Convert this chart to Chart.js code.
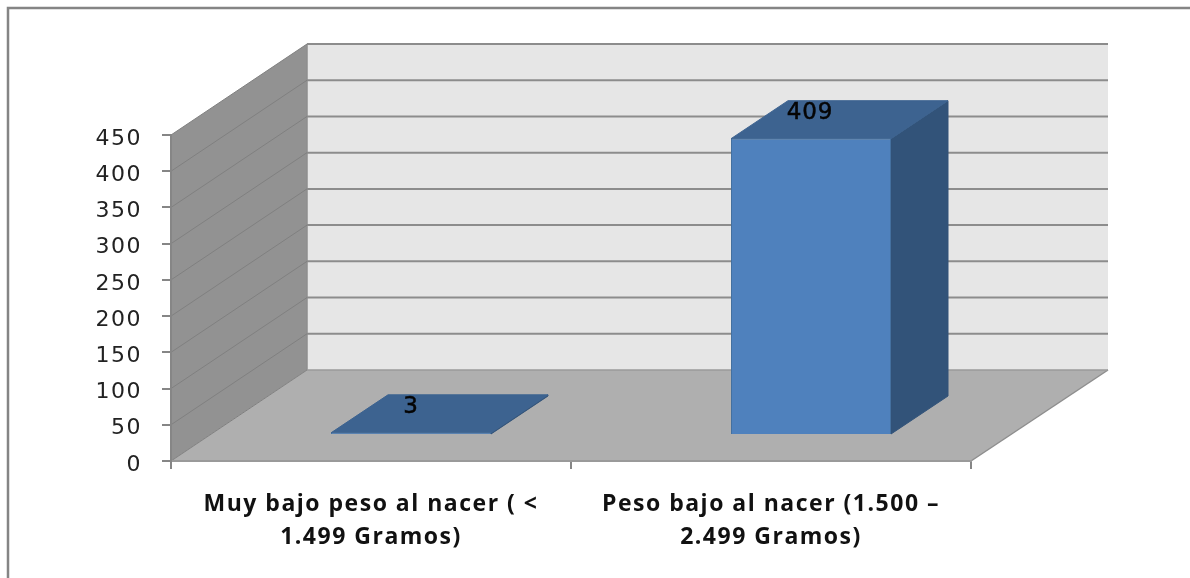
<!DOCTYPE html>
<html><head><meta charset="utf-8">
<style>html,body{margin:0;padding:0;background:#fff;overflow:hidden}canvas{display:block;filter:blur(0.5px)}</style>
<script src="https://cdn.jsdelivr.net/npm/chart.js@4"></script>
</head><body>
<canvas id="c" width="1190" height="578"></canvas>
<script>
const categories = [["Muy bajo peso al nacer ( <","1.499 Gramos)"],["Peso bajo al nacer (1.500 –","2.499 Gramos)"]];
const values = [3, 409];
const tickValues = [0,50,100,150,200,250,300,350,400,450];

const WALL = {dx:136, dxr:137, dy:91};
const BAROFF = {dx:40, dy:26};
const BARDEPTH = {dx:57, dy:38};

const box3d = {
  id:'box3d',
  beforeDraw(chart){
    const c=chart.ctx, a=chart.chartArea, y=chart.scales.y;
    c.letterSpacing='1.5px';
    c.save();
    c.fillStyle='#fff'; c.fillRect(0,0,chart.width,chart.height);
    c.strokeStyle='#858585'; c.lineWidth=2.5;
    c.beginPath(); c.moveTo(8,chart.height); c.lineTo(8,8); c.lineTo(chart.width,8); c.stroke();
    const l=a.left,r=a.right,t=a.top,b=a.bottom,dx=WALL.dx,dxr=WALL.dxr,dy=WALL.dy;
    c.fillStyle='#e6e6e6'; c.fillRect(l+dx,t-dy,r-l+dxr-dx,b-t);
    c.fillStyle='#929292';
    c.beginPath();c.moveTo(l,t);c.lineTo(l+dx,t-dy);c.lineTo(l+dx,b-dy);c.lineTo(l,b);c.closePath();c.fill();
    c.fillStyle='#afafaf';
    c.beginPath();c.moveTo(l,b);c.lineTo(l+dx,b-dy);c.lineTo(r+dxr,b-dy);c.lineTo(r,b);c.closePath();c.fill();
    c.strokeStyle='#8e8e8e'; c.lineWidth=1.5;
    c.beginPath();c.moveTo(r,b);c.lineTo(r+dxr,b-dy);c.stroke();
    c.beginPath();c.moveTo(l+dx,t-dy);c.lineTo(l+dx,b-dy);c.stroke();
    tickValues.forEach(v=>{
      const p=y.getPixelForValue(v);
      c.strokeStyle='#808080'; c.lineWidth=1;
      c.beginPath();c.moveTo(l,p);c.lineTo(l+dx,p-dy);c.stroke();
      c.strokeStyle=v===0?'#9a9a9a':'#8c8c8c'; c.lineWidth=v===0?1.5:2;
      c.beginPath();c.moveTo(l+dx,p-dy);c.lineTo(r+dxr,p-dy);c.stroke();
    });
    c.restore();
  },
  beforeDatasetDraw(chart){
    const c=chart.ctx, meta=chart.getDatasetMeta(0);
    c.save();
    c.translate(BAROFF.dx,-BAROFF.dy);
    meta.data.forEach(el=>{
      const h=el.width/2,x0=el.x-h,x1=el.x+h,top=el.y,base=el.base,d=BARDEPTH;
      c.lineWidth=1;
      c.fillStyle='#325379'; c.strokeStyle='#325379';
      c.beginPath();c.moveTo(x1,top);c.lineTo(x1+d.dx,top-d.dy);c.lineTo(x1+d.dx,base-d.dy);c.lineTo(x1,base);c.closePath();c.fill();c.stroke();
      c.fillStyle='#3d6390'; c.strokeStyle='#3d6390';
      c.beginPath();c.moveTo(x0,top);c.lineTo(x0+d.dx,top-d.dy);c.lineTo(x1+d.dx,top-d.dy);c.lineTo(x1,top);c.closePath();c.fill();c.stroke();
    });
  },
  afterDatasetDraw(chart){ chart.ctx.restore(); },
  afterDatasetsDraw(chart){
    const c=chart.ctx, meta=chart.getDatasetMeta(0);
    c.save();
    c.font='23px "DejaVu Sans"'; c.letterSpacing='0.8px'; c.fillStyle='#050505'; c.strokeStyle='#050505'; c.lineWidth=0.5;
    c.textAlign='center'; c.textBaseline='middle';
    meta.data.forEach((el,i)=>{
      const x=el.x+BAROFF.dx-(i===0?0:1), y=el.y-BAROFF.dy-25.5;
      c.fillText(String(values[i]),x,y); c.strokeText(String(values[i]),x,y);
    });
    c.restore();
  }
};

new Chart(document.getElementById('c'),{
  type:'bar',
  data:{labels:categories,datasets:[{
    data:values, backgroundColor:'#4f81bd', borderColor:'#44709f', borderWidth:1,
    categoryPercentage:1, barPercentage:0.4, clip:false
  }]},
  plugins:[box3d],
  options:{
    responsive:false, animation:false, events:[],
    layout:{padding:{left:0,right:219,top:135,bottom:0}},
    plugins:{legend:{display:false},title:{display:false},tooltip:{enabled:false}},
    scales:{
      x:{
        grid:{drawOnChartArea:false,drawTicks:true,tickLength:8,color:'#868686',lineWidth:2,offset:true},
        border:{display:true,color:'#9a9a9a',width:2},
        ticks:{maxRotation:0,autoSkip:false,padding:19,color:'#111',font:{family:'"Open Sans"',size:23,weight:'700',lineHeight:1.435}},
        afterFit(s){s.height=117;}
      },
      y:{
        min:0,max:450,
        grid:{drawOnChartArea:false,drawTicks:true,tickLength:9,color:'#868686',lineWidth:2},
        border:{display:true,color:'#868686',width:2},
        afterBuildTicks(s){s.ticks=tickValues.map(v=>({value:v}));},
        ticks:{padding:20,labelOffset:4,color:'#222',font:{family:'"DejaVu Sans"',size:22}},
        afterFit(s){s.width=171;}
      }
    }
  }
});
</script>
</body></html>
